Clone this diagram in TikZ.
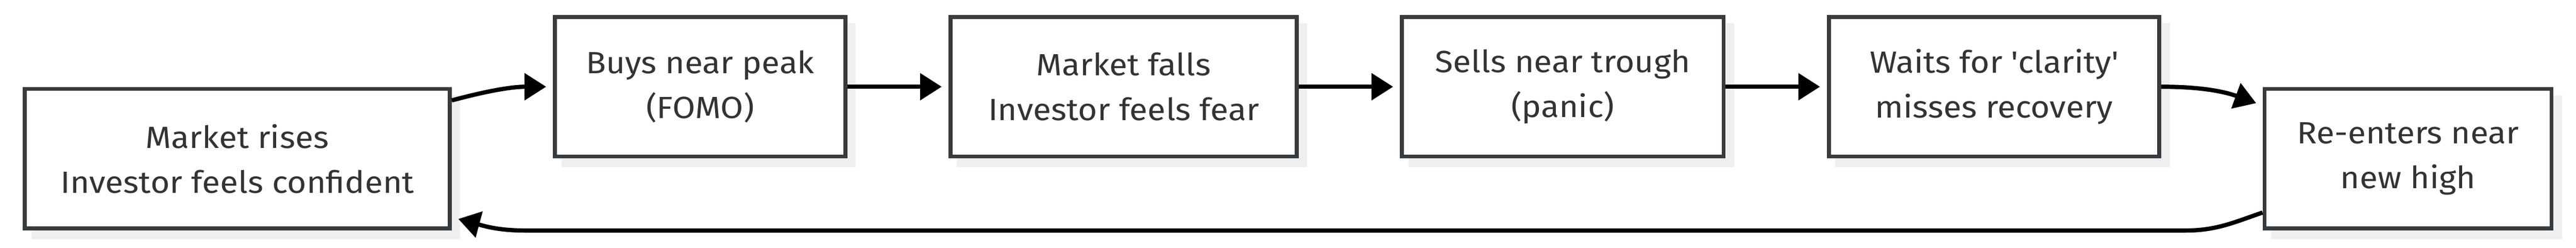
\documentclass[tikz,border=0pt]{standalone}
\usepackage{fontspec}
\setmainfont{Fira Sans}[FakeStretch=1.08]
\usepackage{xcolor}
\usepackage{tikz}
\usetikzlibrary{shapes,arrows.meta,positioning,shadows}
\definecolor{boxline}{RGB}{56,59,62}
\definecolor{boxtext}{RGB}{51,51,51}
\definecolor{boxshadow}{RGB}{239,239,239}
\tikzstyle{stage} = [rectangle,minimum height=3.295cm,inner sep=0pt,text centered,align=center,draw=boxline,line width=0.095cm,fill=white,text=boxtext,font=\fontsize{20.6}{30}\selectfont,drop shadow={shadow xshift=0.2cm,shadow yshift=-0.2cm,fill=boxshadow,draw=boxshadow,line width=0.095cm,opacity=1}]
\tikzstyle{arrow} = [line width=0.1cm,black,-{Triangle[length=0.51cm,width=0.62cm]},shorten >=0.16cm]

\begin{document}
\begin{tikzpicture}[node distance=2.39cm]
\useasboundingbox (0,0) rectangle (60.86,-5.85);
\node (rises) [stage,minimum width=10.04cm] at (5.606,-3.7475) {Market rises\\Investor feels confident};
\node (buys) [stage,minimum width=6.86cm,right=of rises,yshift=1.7cm] {Buys near peak\\(FOMO)};
\node (falls) [stage,minimum width=8.18cm,right=of buys] {Market falls\\Investor feels fear};
\node (sells) [stage,minimum width=7.60cm,right=of falls] {Sells near trough\\(panic)};
\node (waits) [stage,minimum width=7.81cm,right=of sells] {Waits for \textquotesingle clarity\textquotesingle\\misses recovery};
\node (reenters) [stage,minimum width=6.78cm,right=of waits,yshift=-1.7cm] {Re-enters near\\new high};

\draw [arrow] ([yshift=1.3775cm]rises.east) to[out=15,in=180] (buys.west);
\draw [arrow] (buys) -- (falls);
\draw [arrow] (falls) -- (sells);
\draw [arrow] (sells) -- (waits);
\draw [arrow] (waits.east) to[out=0,in=160] ([yshift=1.2575cm]reenters.west);
\draw [arrow] ([yshift=-1.27cm]reenters.west) to[out=199,in=0] ([xshift=-1.83cm]reenters.south west) -- ([xshift=1.73cm]rises.south east) to[out=180,in=-15] ([yshift=-1.38cm]rises.east);
\end{tikzpicture}
\end{document}
